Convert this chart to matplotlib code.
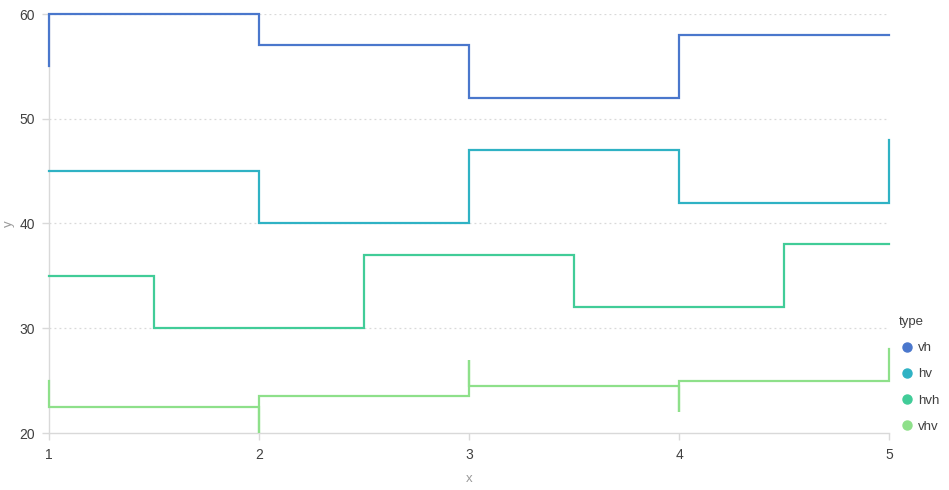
import numpy as np
import matplotlib
matplotlib.use("Agg")
import matplotlib.pyplot as plt
from matplotlib.lines import Line2D

plt.rcParams['font.family'] = ['Liberation Sans', 'DejaVu Sans']

x = [1, 2, 3, 4, 5]
types = ['vh', 'hv', 'hvh', 'vhv']
vh = [55, 60, 57, 52, 58]
hv = [45, 40, 47, 42, 48]
hvh = [35, 30, 37, 32, 38]
vhv = [25, 20, 27, 22, 28]
colors = ['#4a77cc', '#2fb2c4', '#41cc98', '#8ee08a']
xticks = [1, 2, 3, 4, 5]
yticks = [20, 30, 40, 50, 60]

fig = plt.figure(figsize=(9.49, 4.90), dpi=100)
ax = fig.add_axes([49/949, 1-433/490, (889-49)/949, (433-14)/490])

lw = 1.6
kw = dict(lw=lw, solid_joinstyle='miter', clip_on=False, zorder=3)
ax.plot(x, vh, drawstyle='steps-pre', color=colors[0], **kw)
ax.plot(x, hv, drawstyle='steps-post', color=colors[1], **kw)
ax.plot(x, hvh, drawstyle='steps-mid', color=colors[2], **kw)

# vhv path: vertical to midpoint, horizontal, vertical
px, py = [], []
n = len(x)
mids = [(vhv[i] + vhv[i+1]) / 2 for i in range(n-1)]
for i in range(n):
    if i > 0:
        px.append(x[i]); py.append(mids[i-1])
    px.append(x[i]); py.append(vhv[i])
    if i < n-1:
        px.append(x[i]); py.append(mids[i])
ax.plot(px, py, color=colors[3], **kw)

ax.set_xlim(1, 5)
ax.set_ylim(20, 60)
ax.set_xticks(xticks)
ax.set_yticks(yticks)
ax.set_xticklabels([str(v) for v in xticks])
ax.set_yticklabels([str(v) for v in yticks])

for s in ['top', 'right']:
    ax.spines[s].set_visible(False)
for s in ['left', 'bottom']:
    ax.spines[s].set_color('#d9d9d9')
    ax.spines[s].set_linewidth(1)

ax.tick_params(axis='both', colors='#d9d9d9', labelcolor='#404040', labelsize=10, length=5, width=1)
ax.tick_params(axis='x', pad=6)
ax.tick_params(axis='y', pad=5)

for yv in yticks[1:]:
    ax.axhline(yv, color='#d9d9d9', lw=0.9, ls=(0, (1.5, 2.5)), zorder=0)

ax.set_xlabel('x', color='#9a9a9a', fontsize=9.5)
ax.set_ylabel('y', color='#9a9a9a', fontsize=9.5)
ax.xaxis.set_label_coords(0.5, -0.095)
ax.yaxis.set_label_coords(-0.04, 0.5)

handles = [Line2D([], [], marker='o', ls='none', color=c, markersize=6.5) for c in colors]
leg = fig.legend(handles, types, title='type', loc='upper left',
                 bbox_to_anchor=(894/949, 1-311/490), frameon=False,
                 handletextpad=0.2, labelspacing=1.05, fontsize=9.5,
                 title_fontsize=9.5, alignment='left', handlelength=1.2, borderaxespad=0)
for t in leg.get_texts():
    t.set_color('#404040')
leg.get_title().set_color('#404040')

fig.savefig('out.png', dpi=100)
